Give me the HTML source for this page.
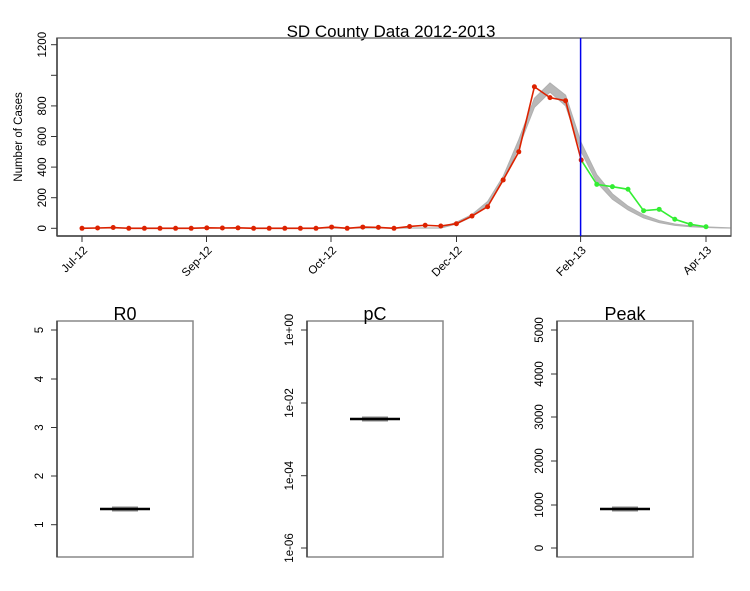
<!DOCTYPE html>
<html><head><meta charset="utf-8"><style>
html,body{margin:0;padding:0;background:#fff;}
svg text{font-family:"Liberation Sans",Arial,sans-serif;fill:#000;}
</style></head><body>
<svg id="s" width="750" height="586" viewBox="0 0 750 586" xmlns="http://www.w3.org/2000/svg">
<rect width="750" height="586" fill="#fff"/>
<g id="gtop"></g>
<text x="391" y="37" font-size="17" text-anchor="middle">SD County Data 2012-2013</text>
<path d="M57,38 H731 V236 H57 Z" fill="none" stroke="#777" stroke-width="1.5"/>
<path d="M57,38 V236" stroke="#444" stroke-width="1.5"/>
<path d="M57,236 H731" stroke="#444" stroke-width="1.5"/>
<g stroke="#333" stroke-width="1">
<line x1="51" x2="57" y1="228.3" y2="228.3"/><line x1="51" x2="57" y1="197.7" y2="197.7"/>
<line x1="51" x2="57" y1="167.1" y2="167.1"/><line x1="51" x2="57" y1="136.5" y2="136.5"/>
<line x1="51" x2="57" y1="105.9" y2="105.9"/><line x1="51" x2="57" y1="75.3" y2="75.3"/>
<line x1="51" x2="57" y1="44.7" y2="44.7"/>
<line x1="82" x2="82" y1="236" y2="242"/><line x1="206.5" x2="206.5" y1="236" y2="242"/>
<line x1="331" x2="331" y1="236" y2="242"/><line x1="456.5" x2="456.5" y1="236" y2="242"/>
<line x1="580.6" x2="580.6" y1="236" y2="242"/><line x1="706" x2="706" y1="236" y2="242"/>
</g>
<g font-size="11.5" text-anchor="middle">
<text transform="translate(46,228.3) rotate(-90)">0</text>
<text transform="translate(46,197.7) rotate(-90)">200</text>
<text transform="translate(46,167.1) rotate(-90)">400</text>
<text transform="translate(46,136.5) rotate(-90)">600</text>
<text transform="translate(46,105.9) rotate(-90)">800</text>
<text transform="translate(46,44.7) rotate(-90)">1200</text>
</g>
<text transform="translate(22,137) rotate(-90)" font-size="11.5" text-anchor="middle">Number of Cases</text>
<g font-size="11.5" text-anchor="end">
<text transform="translate(88,251) rotate(-45)">Jul-12</text>
<text transform="translate(212.5,251) rotate(-45)">Sep-12</text>
<text transform="translate(337,251) rotate(-45)">Oct-12</text>
<text transform="translate(462.5,251) rotate(-45)">Dec-12</text>
<text transform="translate(586.6,251) rotate(-45)">Feb-13</text>
<text transform="translate(712,251) rotate(-45)">Apr-13</text>
</g>
<line x1="580.6" x2="580.6" y1="38" y2="236" stroke="#0000ee" stroke-width="1.5"/>
<g id="gbot"></g>
</svg>
<script>
(function(){
var NS="http://www.w3.org/2000/svg";
function el(p,t,a,txt){var e=document.createElementNS(NS,t);for(var k in a)e.setAttribute(k,a[k]);if(txt!=null)e.textContent=txt;p.appendChild(e);return e;}
var gt=document.getElementById("gtop");
function X(i){return 82+i*15.6;}
function Y(v){return 228.3-v*0.153;}
var base=[];
for(var i=0;i<24;i++){base.push([3,1]);}
var m=[[40,28],[90,75],[175,150],[340,310],[580,530],[850,790],[950,890],[870,800],[560,500],[350,300],[225,190],[145,120],[88,68],[50,37],[28,19],[16,10],[9,5],[5,2],[3,1]];
var all=base.concat(m);
var pu="";
for(var i=0;i<all.length;i++){var x=Math.min(X(i),731);pu+=(i?"L":"M")+x+","+Y(all[i][0]);}
for(var i=all.length-1;i>=0;i--){var x=Math.min(X(i),731);pu+="L"+x+","+Y(all[i][1]);}
el(gt,"path",{d:pu+"Z",fill:"#b8b8b8",stroke:"#b0b0b0","stroke-width":1});
var red=[0,2,5,0,0,0,0,0,3,2,3,0,0,0,0,0,8,0,8,6,0,12,20,15,30,80,141,316,500,925,854,834,446];
var green=[446,287,272,255,115,124,59,26,10];
var d="";for(var i=0;i<red.length;i++)d+=(i?"L":"M")+X(i)+","+Y(red[i]);
var dg="";for(var i=0;i<green.length;i++)dg+=(i?"L":"M")+X(32+i)+","+Y(green[i]);
el(gt,"path",{d:dg,fill:"none",stroke:"#33ee33","stroke-width":1.6});
for(var i=1;i<green.length;i++)el(gt,"circle",{cx:X(32+i),cy:Y(green[i]),r:2.5,fill:"#33ee33"});
el(gt,"path",{d:d,fill:"none",stroke:"#dd2200","stroke-width":1.6});
for(var i=0;i<red.length;i++)el(gt,"circle",{cx:X(i),cy:Y(red[i]),r:2.5,fill:"#dd2200"});

var gb=document.getElementById("gbot");
var panels=[
 {x0:57,title:"R0",ticks:[[330,"5"],[379,"4"],[427.5,"3"],[476,"2"],[524.7,"1"]],ly:509},
 {x0:307,title:"pC",ticks:[[330,"1e+00"],[403,"1e-02"],[475.7,"1e-04"],[548,"1e-06"]],ly:419},
 {x0:557,title:"Peak",ticks:[[330,"5000"],[374,"4000"],[417,"3000"],[461,"2000"],[505,"1000"],[548,"0"]],ly:509}
];
panels.forEach(function(p){
 var x0=p.x0,x1=x0+136;
 el(gb,"path",{d:"M"+x0+",321H"+x1+"V557H"+x0+"Z",fill:"none",stroke:"#888","stroke-width":1.5});
 el(gb,"path",{d:"M"+x0+",321V557",stroke:"#444","stroke-width":1.5});
 el(gb,"text",{x:x0+68,y:320,"font-size":18,"text-anchor":"middle"},p.title);
 p.ticks.forEach(function(t){
  el(gb,"line",{x1:x0-6,x2:x0,y1:t[0],y2:t[0],stroke:"#333","stroke-width":1});
  el(gb,"text",{transform:"translate("+(x0-14)+","+t[0]+") rotate(-90)","font-size":11.5,"text-anchor":"middle"},t[1]);
 });
 el(gb,"rect",{x:x0+55,y:p.ly-2.5,width:26,height:5,fill:"#888"});
 el(gb,"line",{x1:x0+43,x2:x0+93,y1:p.ly,y2:p.ly,stroke:"#000","stroke-width":2.5});
});
})();
</script>
</body></html>
